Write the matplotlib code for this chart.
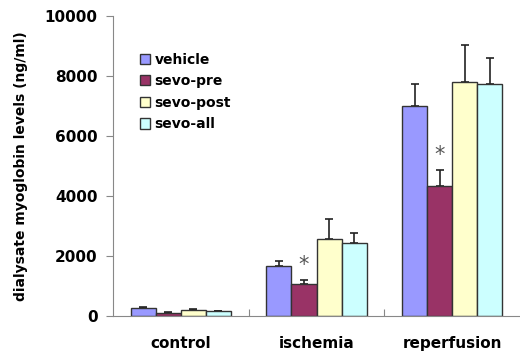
import numpy as np
import matplotlib
matplotlib.use('Agg')
import matplotlib.pyplot as plt
from matplotlib.patches import Patch

groups = ['control', 'ischemia', 'reperfusion']
series = ['vehicle', 'sevo-pre', 'sevo-post', 'sevo-all']
colors = ['#9999ff', '#993366', '#ffffcc', '#ccffff']

vehicle = [265, 1675, 7010]
sevo_pre = [115, 1055, 4340]
sevo_post = [215, 2560, 7800]
sevo_all = [160, 2420, 7740]

vehicle_err = [25, 155, 735]
sevo_pre_err = [30, 145, 530]
sevo_post_err = [20, 665, 1240]
sevo_all_err = [15, 355, 875]

means = [vehicle, sevo_pre, sevo_post, sevo_all]
errs = [vehicle_err, sevo_pre_err, sevo_post_err, sevo_all_err]
starred = [(1, 1), (1, 2)]  # (series index, group index)

fig = plt.figure(figsize=(5.2, 3.56), dpi=100)
ax = fig.add_axes([113/520, 40/356, 1 - 113/520, 300/356])

x = np.arange(len(groups)) + 0.5
w = 0.185
for i, (m, e) in enumerate(zip(means, errs)):
    pos = x + (i - 1.5) * w
    ax.bar(pos, m, width=w, color=colors[i], edgecolor='#333333', linewidth=1.0, zorder=2)
    ax.errorbar(pos, m, yerr=[np.zeros(len(e)), e], fmt='none', ecolor='#222222',
                elinewidth=1.2, capsize=3, capthick=1.2, zorder=1)

for si, gi in starred:
    px = x[gi] + (si - 1.5) * w
    top = means[si][gi] + errs[si][gi]
    ax.text(px, top + 180, '*', ha='center', va='bottom', fontsize=15, color='#555555')

ax.set_xlim(0, 3)
ax.set_ylim(0, 10000)
ax.set_yticks([0, 2000, 4000, 6000, 8000, 10000])
ax.set_yticklabels(['0', '2000', '4000', '6000', '8000', '10000'], fontsize=11, fontweight='bold')
ax.set_xticks([1, 2])
ax.set_xticklabels([])
ax.tick_params(axis='x', direction='in', length=5, color='#888888')
ax.tick_params(axis='y', direction='out', length=5, color='#888888', pad=6)
for g, gx in zip(groups, x):
    ax.text(gx, -0.068, g, transform=ax.get_xaxis_transform(), ha='center', va='top',
            fontsize=11, fontweight='bold')

ax.spines['top'].set_visible(False)
ax.spines['right'].set_visible(False)
ax.spines['left'].set_color('#888888')
ax.spines['bottom'].set_color('#888888')
ax.set_ylabel('dialysate myoglobin levels (ng/ml)', fontsize=10, fontweight='bold', labelpad=12)

handles = [Patch(facecolor=c, edgecolor='#333333', label=s) for c, s in zip(colors, series)]
ax.legend(handles=handles, loc='upper left', bbox_to_anchor=(0.035, 0.92), frameon=False,
          handlelength=0.75, handleheight=0.75, handletextpad=0.3, labelspacing=0.55,
          prop={'weight': 'bold', 'size': 10})

fig.savefig('out.png', dpi=100)
